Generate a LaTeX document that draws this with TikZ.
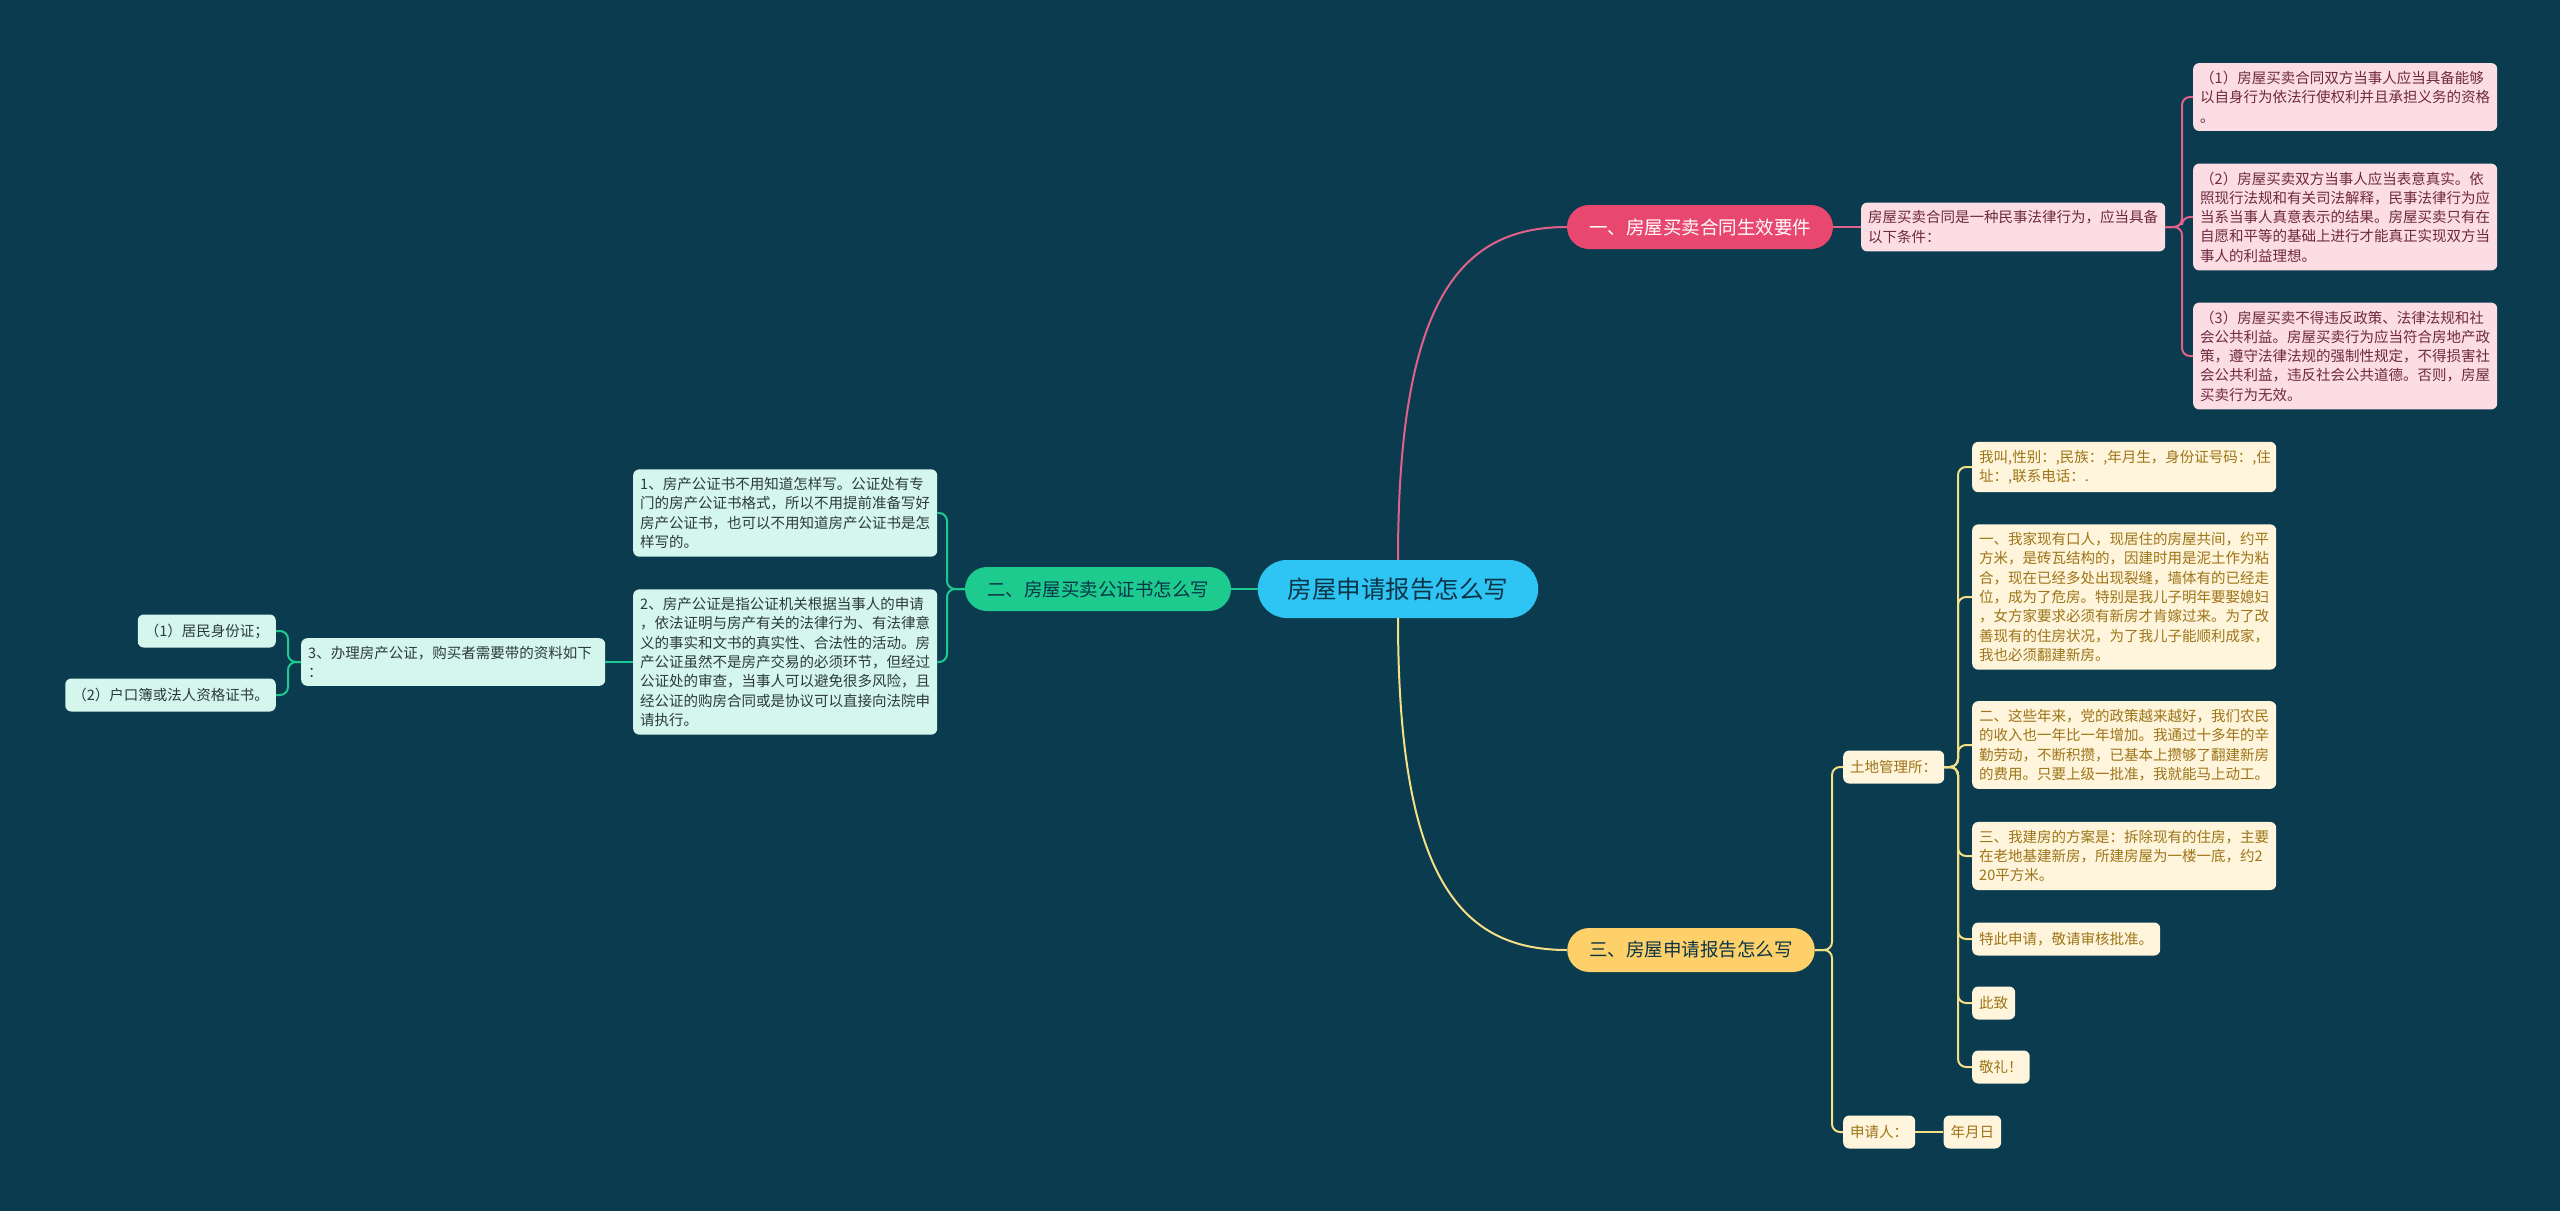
\documentclass[tikz,border=0pt]{standalone}
\usepackage{fontspec}
\setmainfont{Noto Sans CJK SC}
\usetikzlibrary{positioning}
\definecolor{Night}{HTML}{0A3B4E}
\definecolor{Sky}{HTML}{2EC4F3}
\definecolor{Deep}{HTML}{0B3447}
\definecolor{Rose}{HTML}{E8476F}
\definecolor{RoseLine}{HTML}{E0628A}
\definecolor{Blush}{HTML}{FDDDE4}
\definecolor{Wine}{HTML}{6E2A3C}
\definecolor{Jade}{HTML}{1DCB8F}
\definecolor{JadeLine}{HTML}{1DCB90}
\definecolor{Mint}{HTML}{D4F6EC}
\definecolor{Moss}{HTML}{2D3B38}
\definecolor{Sun}{HTML}{FDD06A}
\definecolor{SunLine}{HTML}{F4DE86}
\definecolor{Cream}{HTML}{FEF5DC}
\definecolor{Ochre}{HTML}{9E7417}

\begin{document}
\begin{tikzpicture}[x=1pt, y=-1pt,
    root/.style={fill=Sky, text=Deep, rounded corners=29pt,
                 minimum height=58pt, inner xsep=30pt,
                 font=\fontsize{24.5}{28}\selectfont},
    topic/.style={rounded corners=22pt, minimum height=44pt,
                  inner xsep=22pt, font=\fontsize{18.5}{22}\selectfont},
    card/.style={rounded corners=6pt, inner xsep=7pt, inner ysep=8pt,
                 minimum height=33pt, align=left,
                 font=\fontsize{14.5}{19.3}\selectfont},
    longcard/.style={card, text width=290pt},
    rosecard/.style={fill=Blush, text=Wine},
    mintcard/.style={fill=Mint, text=Moss},
    creamcard/.style={fill=Cream, text=Ochre},
    link/.style={line width=2pt, rounded corners=8pt}
  ]
  \useasboundingbox (0,0) rectangle (2560,1211);
  \fill[Night] (0,0) rectangle (2560,1211);

  % centre and main topics
  \node[root] (c) at (1398,589) {房屋申请报告怎么写};
  \node[topic, fill=Rose, text=white] (b1) at (1700,227) {一、房屋买卖合同生效要件};
  \node[topic, fill=Jade, text=Deep] (b2) at (1098,589) {二、房屋买卖公证书怎么写};
  \node[topic, fill=Sun, text=Deep] (b3) at (1691,950) {三、房屋申请报告怎么写};

  % branch one
  \node[longcard, rosecard, anchor=west] (p0) at (1861,227)
    {房屋买卖合同是一种民事法律行为，应当具备\\以下条件：};
  \node[longcard, rosecard, anchor=west] (p1) at (2193,97)
    {（1）房屋买卖合同双方当事人应当具备能够\\以自身行为依法行使权利并且承担义务的资格\\。};
  \node[longcard, rosecard, anchor=west] (p2) at (2193,217)
    {（2）房屋买卖双方当事人应当表意真实。依\\照现行法规和有关司法解释，民事法律行为应\\当系当事人真意表示的结果。房屋买卖只有在\\自愿和平等的基础上进行才能真正实现双方当\\事人的利益理想。};
  \node[longcard, rosecard, anchor=west] (p3) at (2193,356)
    {（3）房屋买卖不得违反政策、法律法规和社\\会公共利益。房屋买卖行为应当符合房地产政\\策，遵守法律法规的强制性规定，不得损害社\\会公共利益，违反社会公共道德。否则，房屋\\买卖行为无效。};

  % branch two
  \node[longcard, mintcard, anchor=west] (g1) at (633,513)
    {1、房产公证书不用知道怎样写。公证处有专\\门的房产公证书格式，所以不用提前准备写好\\房产公证书，也可以不用知道房产公证书是怎\\样写的。};
  \node[longcard, mintcard, anchor=west] (g2) at (633,662)
    {2、房产公证是指公证机关根据当事人的申请\\，依法证明与房产有关的法律行为、有法律意\\义的事实和文书的真实性、合法性的活动。房\\产公证虽然不是房产交易的必须环节，但经过\\公证处的审查，当事人可以避免很多风险，且\\经公证的购房合同或是协议可以直接向法院申\\请执行。};
  \node[longcard, mintcard, anchor=west] (g3) at (301,662)
    {3、办理房产公证，购买者需要带的资料如下\\：};
  \node[card, mintcard, anchor=east] (g4) at (276,631) {（1）居民身份证；};
  \node[card, mintcard, anchor=east] (g5) at (276,695) {（2）户口簿或法人资格证书。};

  % branch three
  \node[card, creamcard, anchor=west] (t) at (1843,767) {土地管理所：};
  \node[card, creamcard, anchor=west] (s) at (1843,1132) {申请人：};
  \node[card, creamcard, right=28pt of s] (d) {年月日};
  \node[longcard, creamcard, anchor=west] (y1) at (1972,467)
    {我叫,性别：,民族：,年月生，身份证号码：,住\\址：,联系电话：.};
  \node[longcard, creamcard, anchor=west] (y2) at (1972,597)
    {一、我家现有口人，现居住的房屋共间，约平\\方米，是砖瓦结构的，因建时用是泥土作为粘\\合，现在已经多处出现裂缝，墙体有的已经走\\位，成为了危房。特别是我儿子明年要娶媳妇\\，女方家要求必须有新房才肯嫁过来。为了改\\善现有的住房状况，为了我儿子能顺利成家，\\我也必须翻建新房。};
  \node[longcard, creamcard, anchor=west] (y3) at (1972,745)
    {二、这些年来，党的政策越来越好，我们农民\\的收入也一年比一年增加。我通过十多年的辛\\勤劳动，不断积攒，已基本上攒够了翻建新房\\的费用。只要上级一批准，我就能马上动工。};
  \node[longcard, creamcard, anchor=west] (y4) at (1972,856)
    {三、我建房的方案是：拆除现有的住房，主要\\在老地基建新房，所建房屋为一楼一底，约2\\20平方米。};
  \node[card, creamcard, anchor=west] (y5) at (1972,939) {特此申请，敬请审核批准。};
  \node[card, creamcard, anchor=west] (y6) at (1972,1003) {此致};
  \node[card, creamcard, anchor=west] (y7) at (1972,1067) {敬礼！};

  % connectors
  \draw[line width=2pt, RoseLine] (c.north) .. controls (1398,300) and (1460,227) .. (b1.west);
  \draw[line width=2pt, SunLine] (c.south) .. controls (1398,878) and (1460,950) .. (b3.west);
  \draw[line width=2pt, JadeLine] (c.west) -- (b2.east);

  \draw[link, RoseLine] (b1.east) -- (p0.west);
  \foreach \n in {p1,p2,p3}
    \draw[link, RoseLine] (p0.east) -- (2182,227) |- (\n.west);

  \foreach \n in {g1,g2}
    \draw[link, JadeLine] (b2.west) -- (947,589) |- (\n.east);
  \draw[link, JadeLine] (g2.west) -- (g3.east);
  \foreach \n in {g4,g5}
    \draw[link, JadeLine] (g3.west) -- (288,662) |- (\n.east);

  \foreach \n in {t,s}
    \draw[link, SunLine] (b3.east) -- (1832,950) |- (\n.west);
  \draw[link, SunLine] (s.east) -- (d.west);
  \foreach \n in {y1,y2,y3,y4,y5,y6,y7}
    \draw[link, SunLine] (t.east) -- (1958,767) |- (\n.west);
\end{tikzpicture}
\end{document}
